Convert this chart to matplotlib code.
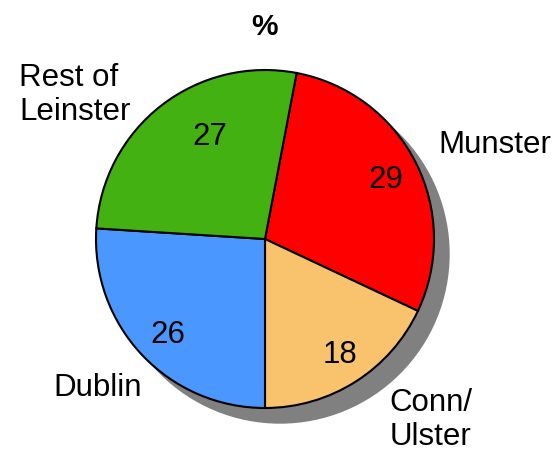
import matplotlib.pyplot as plt
from matplotlib.patches import Circle

#--------------- Style ---------------------
plt.rcParams['font.family'] = ['Liberation Sans', 'DejaVu Sans']
plt.rcParams['font.size'] = 22.5

#--------------- Data ----------------------
regions = ["Munster", "Conn/\nUlster", "Dublin", "Rest of\nLeinster"]
shares = [29, 18, 26, 27]
colours = ['#ff0000', '#f8c36c', '#4a98ff', '#42b111']

# label / value positions in pixel space (x from left, y from top)
label_pos = [(495, 145), (431, 420), (98, 388), (75, 95)]
value_pos = [(386, 180), (340, 355), (168, 335), (210, 137)]

W, H = 557, 453
cx, cy, r = 265, 239, 169

fig = plt.figure(figsize=(W / 100, H / 100), dpi=100)
ax = fig.add_axes([0, 0, 1, 1])

# drop shadow
ax.add_patch(Circle((cx + 15, H - cy - 15), r, color='#808080', zorder=0))

wedges, texts, autotexts = ax.pie(shares, labels=regions, colors=colours,
                                  startangle=79.2, counterclock=False,
                                  center=(cx, H - cy), radius=r, frame=True,
                                  autopct=lambda p: '%d' % round(p),
                                  wedgeprops=dict(edgecolor='black', linewidth=1.5))
for w in wedges:
    w.set_zorder(2)
for t, (x, y) in zip(texts, label_pos):
    t.set_position((x, H - y))
    t.set_ha('center')
    t.set_va('center')
    t.set_multialignment('left')
for t, (x, y) in zip(autotexts, value_pos):
    t.set_position((x, H - y))
    t.set_zorder(3)

ax.set_xlim(0, W)
ax.set_ylim(0, H)
ax.set_aspect('equal')
ax.axis('off')
ax.text(265, H - 27, '%', ha='center', va='center', fontweight='bold', fontsize=21.5)

fig.savefig('out.png', dpi=100)
